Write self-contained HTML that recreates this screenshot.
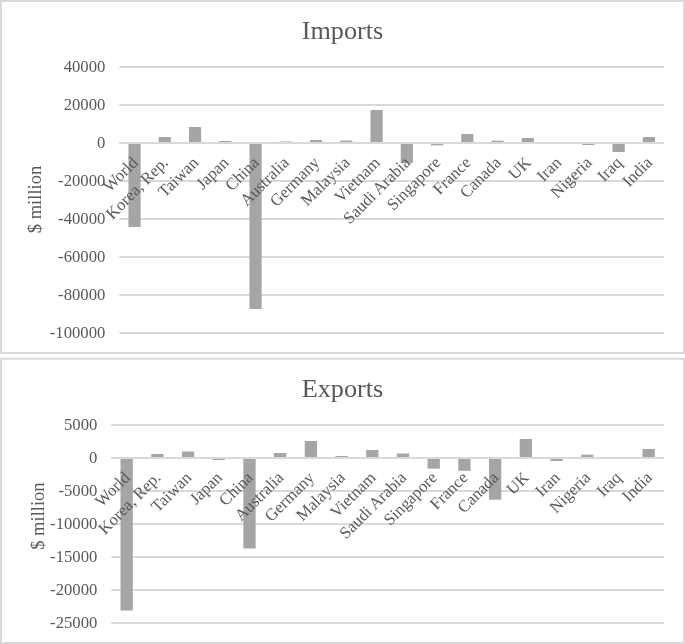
<!DOCTYPE html>
<html><head><meta charset="utf-8"><style>
html,body{margin:0;padding:0;background:#fff;width:685px;height:644px;overflow:hidden}
svg{display:block;will-change:transform}
text{font-family:"Liberation Serif",serif;fill:#595959}
</style></head><body>
<svg width="685" height="644" viewBox="0 0 685 644">
<rect x="0" y="0" width="685" height="644" fill="#ffffff"/>
<rect x="1" y="1" width="683" height="352" fill="none" stroke="#d9d9d9" stroke-width="2"/>
<rect x="1" y="358.7" width="683" height="284.3" fill="none" stroke="#d9d9d9" stroke-width="2"/>
<text x="342.5" y="38.9" text-anchor="middle" font-size="26.2">Imports</text>
<text x="342.5" y="396.8" text-anchor="middle" font-size="26.2">Exports</text>
<rect x="119.40" y="66" width="544.60" height="2" fill="#d9d9d9"/>
<rect x="119.40" y="104" width="544.60" height="2" fill="#d9d9d9"/>
<rect x="119.40" y="142" width="544.60" height="2" fill="#d9d9d9"/>
<rect x="119.40" y="180" width="544.60" height="2" fill="#d9d9d9"/>
<rect x="119.40" y="218" width="544.60" height="2" fill="#d9d9d9"/>
<rect x="119.40" y="256" width="544.60" height="2" fill="#d9d9d9"/>
<rect x="119.40" y="294" width="544.60" height="2" fill="#d9d9d9"/>
<rect x="119.40" y="332" width="544.60" height="2" fill="#d9d9d9"/>
<text x="105.4" y="71.95" text-anchor="end" font-size="16.7">40000</text>
<text x="105.4" y="109.95" text-anchor="end" font-size="16.7">20000</text>
<text x="105.4" y="147.95" text-anchor="end" font-size="16.7">0</text>
<text x="105.4" y="185.95" text-anchor="end" font-size="16.7">-20000</text>
<text x="105.4" y="223.95" text-anchor="end" font-size="16.7">-40000</text>
<text x="105.4" y="261.95" text-anchor="end" font-size="16.7">-60000</text>
<text x="105.4" y="299.95" text-anchor="end" font-size="16.7">-80000</text>
<text x="105.4" y="337.95" text-anchor="end" font-size="16.7">-100000</text>
<rect x="128.43" y="143.00" width="12.20" height="84.00" fill="#a5a5a5"/>
<rect x="158.68" y="137.00" width="12.20" height="6.00" fill="#a5a5a5"/>
<rect x="188.94" y="127.00" width="12.20" height="16.00" fill="#a5a5a5"/>
<rect x="219.19" y="141.00" width="12.20" height="2.00" fill="#a5a5a5"/>
<rect x="249.45" y="143.00" width="12.20" height="166.00" fill="#a5a5a5"/>
<rect x="279.71" y="141.50" width="12.20" height="1.50" fill="#a5a5a5"/>
<rect x="309.96" y="140.00" width="12.20" height="3.00" fill="#a5a5a5"/>
<rect x="340.22" y="140.60" width="12.20" height="2.40" fill="#a5a5a5"/>
<rect x="370.47" y="110.00" width="12.20" height="33.00" fill="#a5a5a5"/>
<rect x="400.73" y="143.00" width="12.20" height="20.00" fill="#a5a5a5"/>
<rect x="430.98" y="143.00" width="12.20" height="2.30" fill="#a5a5a5"/>
<rect x="461.24" y="134.00" width="12.20" height="9.00" fill="#a5a5a5"/>
<rect x="491.49" y="140.70" width="12.20" height="2.30" fill="#a5a5a5"/>
<rect x="521.75" y="138.00" width="12.20" height="5.00" fill="#a5a5a5"/>
<rect x="582.26" y="143.00" width="12.20" height="2.00" fill="#a5a5a5"/>
<rect x="612.52" y="143.00" width="12.20" height="9.00" fill="#a5a5a5"/>
<rect x="642.77" y="137.00" width="12.20" height="6.00" fill="#a5a5a5"/>
<rect x="119.40" y="142" width="544.60" height="2" fill="#d9d9d9"/>
<text transform="translate(138.83,163.50) rotate(-45)" text-anchor="end" font-size="16.7">World</text>
<text transform="translate(169.08,163.50) rotate(-45)" text-anchor="end" font-size="16.7">Korea, Rep.</text>
<text transform="translate(199.34,163.50) rotate(-45)" text-anchor="end" font-size="16.7">Taiwan</text>
<text transform="translate(229.59,163.50) rotate(-45)" text-anchor="end" font-size="16.7">Japan</text>
<text transform="translate(259.85,163.50) rotate(-45)" text-anchor="end" font-size="16.7">China</text>
<text transform="translate(290.11,163.50) rotate(-45)" text-anchor="end" font-size="16.7">Australia</text>
<text transform="translate(320.36,163.50) rotate(-45)" text-anchor="end" font-size="16.7">Germany</text>
<text transform="translate(350.62,163.50) rotate(-45)" text-anchor="end" font-size="16.7">Malaysia</text>
<text transform="translate(380.87,163.50) rotate(-45)" text-anchor="end" font-size="16.7">Vietnam</text>
<text transform="translate(411.13,163.50) rotate(-45)" text-anchor="end" font-size="16.7">Saudi Arabia</text>
<text transform="translate(441.38,163.50) rotate(-45)" text-anchor="end" font-size="16.7">Singapore</text>
<text transform="translate(471.64,163.50) rotate(-45)" text-anchor="end" font-size="16.7">France</text>
<text transform="translate(501.89,163.50) rotate(-45)" text-anchor="end" font-size="16.7">Canada</text>
<text transform="translate(532.15,163.50) rotate(-45)" text-anchor="end" font-size="16.7">UK</text>
<text transform="translate(562.41,163.50) rotate(-45)" text-anchor="end" font-size="16.7">Iran</text>
<text transform="translate(592.66,163.50) rotate(-45)" text-anchor="end" font-size="16.7">Nigeria</text>
<text transform="translate(622.92,163.50) rotate(-45)" text-anchor="end" font-size="16.7">Iraq</text>
<text transform="translate(653.17,163.50) rotate(-45)" text-anchor="end" font-size="16.7">India</text>
<rect x="111.30" y="424" width="552.70" height="2" fill="#d9d9d9"/>
<rect x="111.30" y="457" width="552.70" height="2" fill="#d9d9d9"/>
<rect x="111.30" y="490" width="552.70" height="2" fill="#d9d9d9"/>
<rect x="111.30" y="523" width="552.70" height="2" fill="#d9d9d9"/>
<rect x="111.30" y="556" width="552.70" height="2" fill="#d9d9d9"/>
<rect x="111.30" y="589" width="552.70" height="2" fill="#d9d9d9"/>
<rect x="111.30" y="622" width="552.70" height="2" fill="#d9d9d9"/>
<text x="97.4" y="429.95" text-anchor="end" font-size="16.7">5000</text>
<text x="97.4" y="462.95" text-anchor="end" font-size="16.7">0</text>
<text x="97.4" y="495.95" text-anchor="end" font-size="16.7">-5000</text>
<text x="97.4" y="528.95" text-anchor="end" font-size="16.7">-10000</text>
<text x="97.4" y="561.95" text-anchor="end" font-size="16.7">-15000</text>
<text x="97.4" y="594.95" text-anchor="end" font-size="16.7">-20000</text>
<text x="97.4" y="627.95" text-anchor="end" font-size="16.7">-25000</text>
<rect x="120.50" y="458.00" width="12.30" height="152.50" fill="#a5a5a5"/>
<rect x="151.21" y="454.00" width="12.30" height="4.00" fill="#a5a5a5"/>
<rect x="181.91" y="451.50" width="12.30" height="6.50" fill="#a5a5a5"/>
<rect x="212.62" y="458.00" width="12.30" height="2.00" fill="#a5a5a5"/>
<rect x="243.33" y="458.00" width="12.30" height="90.50" fill="#a5a5a5"/>
<rect x="274.03" y="453.00" width="12.30" height="5.00" fill="#a5a5a5"/>
<rect x="304.74" y="441.00" width="12.30" height="17.00" fill="#a5a5a5"/>
<rect x="335.44" y="456.00" width="12.30" height="2.00" fill="#a5a5a5"/>
<rect x="366.15" y="450.00" width="12.30" height="8.00" fill="#a5a5a5"/>
<rect x="396.85" y="453.50" width="12.30" height="4.50" fill="#a5a5a5"/>
<rect x="427.56" y="458.00" width="12.30" height="10.60" fill="#a5a5a5"/>
<rect x="458.26" y="458.00" width="12.30" height="12.80" fill="#a5a5a5"/>
<rect x="488.97" y="458.00" width="12.30" height="41.70" fill="#a5a5a5"/>
<rect x="519.68" y="439.00" width="12.30" height="19.00" fill="#a5a5a5"/>
<rect x="550.38" y="458.00" width="12.30" height="3.00" fill="#a5a5a5"/>
<rect x="581.09" y="454.70" width="12.30" height="3.30" fill="#a5a5a5"/>
<rect x="642.50" y="449.00" width="12.30" height="9.00" fill="#a5a5a5"/>
<rect x="111.30" y="457" width="552.70" height="2" fill="#d9d9d9"/>
<text transform="translate(130.95,478.50) rotate(-45)" text-anchor="end" font-size="16.7">World</text>
<text transform="translate(161.66,478.50) rotate(-45)" text-anchor="end" font-size="16.7">Korea, Rep.</text>
<text transform="translate(192.36,478.50) rotate(-45)" text-anchor="end" font-size="16.7">Taiwan</text>
<text transform="translate(223.07,478.50) rotate(-45)" text-anchor="end" font-size="16.7">Japan</text>
<text transform="translate(253.78,478.50) rotate(-45)" text-anchor="end" font-size="16.7">China</text>
<text transform="translate(284.48,478.50) rotate(-45)" text-anchor="end" font-size="16.7">Australia</text>
<text transform="translate(315.19,478.50) rotate(-45)" text-anchor="end" font-size="16.7">Germany</text>
<text transform="translate(345.89,478.50) rotate(-45)" text-anchor="end" font-size="16.7">Malaysia</text>
<text transform="translate(376.60,478.50) rotate(-45)" text-anchor="end" font-size="16.7">Vietnam</text>
<text transform="translate(407.30,478.50) rotate(-45)" text-anchor="end" font-size="16.7">Saudi Arabia</text>
<text transform="translate(438.01,478.50) rotate(-45)" text-anchor="end" font-size="16.7">Singapore</text>
<text transform="translate(468.71,478.50) rotate(-45)" text-anchor="end" font-size="16.7">France</text>
<text transform="translate(499.42,478.50) rotate(-45)" text-anchor="end" font-size="16.7">Canada</text>
<text transform="translate(530.12,478.50) rotate(-45)" text-anchor="end" font-size="16.7">UK</text>
<text transform="translate(560.83,478.50) rotate(-45)" text-anchor="end" font-size="16.7">Iran</text>
<text transform="translate(591.54,478.50) rotate(-45)" text-anchor="end" font-size="16.7">Nigeria</text>
<text transform="translate(622.24,478.50) rotate(-45)" text-anchor="end" font-size="16.7">Iraq</text>
<text transform="translate(652.95,478.50) rotate(-45)" text-anchor="end" font-size="16.7">India</text>
<text transform="translate(41.4,199.5) rotate(-90)" text-anchor="middle" font-size="18.56">$ million</text>
<text transform="translate(43.8,516.1) rotate(-90)" text-anchor="middle" font-size="18.56">$ million</text>
</svg>
</body></html>
